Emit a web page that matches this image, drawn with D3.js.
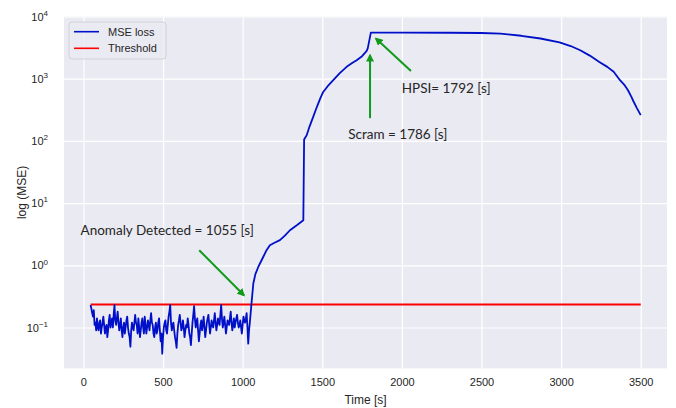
<!DOCTYPE html>
<html>
<head>
<meta charset="utf-8">
<script src="https://cdn.jsdelivr.net/npm/d3@7"></script>
<style>
  body { margin: 0; background: #fff; }
  text { font-family: "Liberation Sans", Arial, sans-serif; }
</style>
</head>
<body>
<div id="chart"></div>
<script>
// Chart size
var width = 676;
var height = 408;

// Plot area edges
var margin = { top: 16.5, right: 9, bottom: 39.7, left: 64 };
var innerWidth = width - margin.left - margin.right;
var innerHeight = height - margin.top - margin.bottom;

// MSE loss before the anomaly: sampled every 5 s from 45 s to 1045 s
var noiseStart = 45;
var noiseStep = 5;
var noiseValue = [
  0.23, 0.20, 0.17, 0.15, 0.19, 0.11, 0.12, 0.09, 0.14, 0.10, 0.09, 0.12, 0.13, 0.08, 0.10, 0.12,
  0.15, 0.11, 0.08, 0.10, 0.11, 0.07, 0.09, 0.13, 0.16, 0.10, 0.12, 0.14, 0.10, 0.16, 0.23, 0.13,
  0.11, 0.14, 0.18, 0.12, 0.09, 0.11, 0.14, 0.09, 0.07, 0.10, 0.12, 0.08, 0.10, 0.13, 0.15,
  0.10, 0.08, 0.07, 0.049, 0.09, 0.12, 0.10, 0.09, 0.12, 0.16, 0.12, 0.11, 0.08, 0.14, 0.10,
  0.07, 0.09, 0.12, 0.14, 0.10, 0.08, 0.15, 0.11, 0.08, 0.10, 0.13, 0.11, 0.09, 0.13, 0.17,
  0.12, 0.11, 0.08, 0.07, 0.10, 0.12, 0.08, 0.09, 0.12, 0.14, 0.09, 0.06, 0.08, 0.038, 0.07,
  0.10, 0.12, 0.13, 0.09, 0.08, 0.11, 0.15, 0.18, 0.23, 0.12, 0.09, 0.11, 0.12, 0.09, 0.07,
  0.06, 0.047, 0.08, 0.11, 0.13, 0.16, 0.12, 0.09, 0.10, 0.13, 0.10, 0.07, 0.09, 0.11, 0.10,
  0.14, 0.11, 0.08, 0.07, 0.052, 0.08, 0.12, 0.16, 0.22, 0.14, 0.10, 0.12, 0.14, 0.09, 0.06,
  0.08, 0.11, 0.13, 0.09, 0.11, 0.15, 0.10, 0.07, 0.09, 0.12, 0.14, 0.16, 0.11, 0.08, 0.10,
  0.13, 0.11, 0.10, 0.13, 0.17, 0.12, 0.09, 0.11, 0.14, 0.12, 0.11, 0.16, 0.23, 0.14, 0.10,
  0.12, 0.15, 0.11, 0.08, 0.10, 0.13, 0.12, 0.11, 0.14, 0.18, 0.12, 0.09, 0.11, 0.14, 0.10,
  0.12, 0.14, 0.16, 0.12, 0.10, 0.11, 0.13, 0.10, 0.08, 0.11, 0.15, 0.13, 0.12, 0.14, 0.17,
  0.10, 0.055, 0.09, 0.12
];

// MSE loss after the anomaly: time [s]
var riseTime = [
  1055, 1067, 1080, 1098, 1115, 1129, 1150, 1171, 1200, 1234, 1265, 1297, 1340, 1381,
  1386, 1402, 1420, 1443, 1460, 1475, 1490, 1506, 1540, 1569, 1610, 1653, 1690,
  1716, 1750, 1779, 1786, 1805, 2000, 2300, 2500, 2620, 2750, 2870, 2990, 3060,
  3120, 3180, 3240, 3290, 3330, 3370, 3400, 3420, 3440, 3455, 3475, 3500
];

// MSE loss after the anomaly: values
var riseValue = [
  0.235, 0.51, 0.72, 0.94, 1.15, 1.36, 1.75, 2.1, 2.3, 2.54, 3.0, 3.66, 4.4, 5.3,
  105, 123, 170, 243, 320, 400, 500, 612, 790, 946, 1230, 1550, 1800,
  1980, 2300, 2800, 3100, 5500, 5500, 5480, 5430, 5300, 4900, 4430, 3850, 3350,
  2870, 2350, 1860, 1550, 1290, 946, 780, 653, 520, 430, 340, 260
];

// Threshold line
var thresholdTime = [45, 3500];
var thresholdValue = 0.234;

// Ticks
var xTicks = [0, 500, 1000, 1500, 2000, 2500, 3000, 3500];
var yExponents = [-1, 0, 1, 2, 3, 4];

// Annotations: label, text position, arrow start and end (time, value)
var notes = [
  { label: "Anomaly Detected = 1055 [s]", tx: -18, ty: 3.1, from: [727, 1.75], to: [1008, 0.33] },
  { label: "HPSI= 1792 [s]", tx: 1999, ty: 590, from: [2057, 1333], to: [1837, 4430] },
  { label: "Scram = 1786 [s]", tx: 1663, ty: 108, from: [1800, 232], to: [1800, 2390] }
];

var lossData = noiseValue.map(function (v, i) {
  return { t: noiseStart + i * noiseStep, v: v };
}).concat(riseTime.map(function (t, i) {
  return { t: t, v: riseValue[i] };
}));

// Create SVG
var svg = d3.select("#chart")
  .append("svg")
  .attr("width", width)
  .attr("height", height);

// Arrow head for the annotations
svg.append("defs").append("marker")
  .attr("id", "head")
  .attr("viewBox", "0 0 10 10")
  .attr("refX", 8)
  .attr("refY", 5)
  .attr("markerWidth", 4)
  .attr("markerHeight", 4)
  .attr("markerUnits", "strokeWidth")
  .attr("orient", "auto")
  .append("path")
  .attr("d", "M0,0 L10,5 L0,10 Z")
  .attr("fill", "#109a1c");

var chartGroup = svg.append("g")
  .attr("transform", "translate(" + margin.left + "," + margin.top + ")");

// Background
chartGroup.append("rect")
  .attr("width", innerWidth)
  .attr("height", innerHeight)
  .attr("fill", "#eaeaf2");

// Scales
var xScale = d3.scaleLinear()
  .domain([-122, 3665])
  .range([0, innerWidth]);

var yScale = d3.scaleLog()
  .domain([Math.pow(10, -1.656), 1e4])
  .range([innerHeight, 0]);

// X axis with grid
var xAxis = chartGroup.append("g")
  .attr("transform", "translate(0," + innerHeight + ")")
  .call(d3.axisBottom(xScale)
    .tickValues(xTicks)
    .tickSize(-innerHeight)
    .tickPadding(10)
    .tickFormat(d3.format("d")));

xAxis.select(".domain").remove();
xAxis.selectAll(".tick line").attr("stroke", "#fff").attr("stroke-width", 1.2);
xAxis.selectAll(".tick text")
  .attr("fill", "#262626")
  .style("font-size", "11px");

// Y axis with grid
var yAxis = chartGroup.append("g")
  .call(d3.axisLeft(yScale)
    .tickValues(yExponents.map(function (e) { return Math.pow(10, e); }))
    .tickSize(-innerWidth)
    .tickPadding(16)
    .tickFormat(""));

yAxis.select(".domain").remove();
yAxis.selectAll(".tick line").attr("stroke", "#fff").attr("stroke-width", 1.2);
yAxis.selectAll(".tick text")
  .attr("fill", "#262626")
  .style("font-size", "11px")
  .each(function (d) {
    var label = d3.select(this);
    var e = Math.round(Math.log10(d));
    label.append("tspan").text("10");
    label.append("tspan")
      .attr("dy", "-0.6em")
      .style("font-size", "8px")
      .text(e < 0 ? "\u2212" + (-e) : e);
  });

// Axis titles
svg.append("text")
  .attr("x", margin.left + innerWidth / 2)
  .attr("y", 404)
  .attr("text-anchor", "middle")
  .attr("fill", "#262626")
  .style("font-size", "12px")
  .text("Time [s]");

svg.append("text")
  .attr("transform", "translate(26," + (margin.top + innerHeight / 2) + ") rotate(-90)")
  .attr("text-anchor", "middle")
  .attr("fill", "#262626")
  .style("font-size", "12px")
  .text("log (MSE)");

// Threshold line
chartGroup.append("line")
  .attr("x1", xScale(thresholdTime[0]))
  .attr("x2", xScale(thresholdTime[1]))
  .attr("y1", yScale(thresholdValue))
  .attr("y2", yScale(thresholdValue))
  .attr("stroke", "#ff0000")
  .attr("stroke-width", 2);

// MSE loss line
var line = d3.line()
  .x(function (d) { return xScale(d.t); })
  .y(function (d) { return yScale(d.v); });

chartGroup.append("path")
  .datum(lossData)
  .attr("d", line)
  .attr("fill", "none")
  .attr("stroke", "#0010c8")
  .attr("stroke-width", 1.8)
  .attr("stroke-linejoin", "round");

// Annotations
notes.forEach(function (n) {
  chartGroup.append("line")
    .attr("x1", xScale(n.from[0]))
    .attr("y1", yScale(n.from[1]))
    .attr("x2", xScale(n.to[0]))
    .attr("y2", yScale(n.to[1]))
    .attr("stroke", "#109a1c")
    .attr("stroke-width", 2)
    .attr("marker-end", "url(#head)");

  chartGroup.append("text")
    .attr("x", xScale(n.tx))
    .attr("y", yScale(n.ty))
    .attr("fill", "#262626")
    .style("font-family", "Lato, 'Open Sans', sans-serif")
    .style("font-size", "13.5px")
    .text(n.label);
});

// Legend
var legend = svg.append("g")
  .attr("transform", "translate(69,22)");

legend.append("rect")
  .attr("width", 97)
  .attr("height", 37)
  .attr("rx", 3)
  .attr("fill", "#eaeaf2")
  .attr("fill-opacity", 0.8)
  .attr("stroke", "#cccccc")
  .attr("stroke-width", 0.8);

var legendItems = [
  { name: "MSE loss", color: "#0010c8" },
  { name: "Threshold", color: "#ff0000" }
];

legendItems.forEach(function (item, i) {
  var y = 9.7 + i * 16.6;
  legend.append("line")
    .attr("x1", 5)
    .attr("x2", 30)
    .attr("y1", y)
    .attr("y2", y)
    .attr("stroke", item.color)
    .attr("stroke-width", 1.6);
  legend.append("text")
    .attr("x", 39)
    .attr("y", y + 4)
    .attr("fill", "#262626")
    .style("font-size", "11px")
    .text(item.name);
});
</script>
</body>
</html>
